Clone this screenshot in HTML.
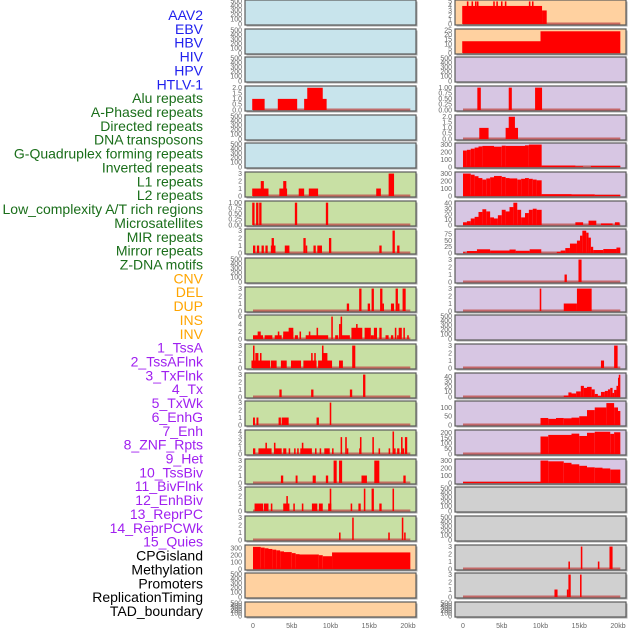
<!DOCTYPE html>
<html><head><meta charset="utf-8"><style>
html,body{margin:0;padding:0;background:#fff;width:630px;height:630px;overflow:hidden}
svg{display:block}
</style></head><body>
<svg id="chart" width="630" height="630" viewBox="0 0 630 630" xmlns="http://www.w3.org/2000/svg"></svg>
<script>
const labels = ["AAV2","EBV","HBV","HIV","HPV","HTLV-1","Alu repeats","A-Phased repeats","Directed repeats","DNA transposons","G-Quadruplex forming repeats","Inverted repeats","L1 repeats","L2 repeats","Low_complexity A/T rich regions","Microsatellites","MIR repeats","Mirror repeats","Z-DNA motifs","CNV","DEL","DUP","INS","INV","1_TssA","2_TssAFlnk","3_TxFlnk","4_Tx","5_TxWk","6_EnhG","7_Enh","8_ZNF_Rpts","9_Het","10_TssBiv","11_BivFlnk","12_EnhBiv","13_ReprPC","14_ReprPCWk","15_Quies","CPGisland","Methylation","Promoters","ReplicationTiming","TAD_boundary"];
const labelGroups = ["v","v","v","v","v","v","r","r","r","r","r","r","r","r","r","r","r","r","r","s","s","s","s","s","c","c","c","c","c","c","c","c","c","c","c","c","c","c","c","o","o","o","o","o"];
const xTickLabels = ["0","5kb","10kb","15kb","20kb"];
const xTickValues = [0,5,10,15,20];

// segment data: [startKb, endKb, value]
const segL4 = [[-0.1,1.5,1],[3.2,5.7,1],[6.6,9.5,1],[7,9,2]];
const segL7 = [[-0.1,2,1],[1,1.4,2],[3.4,4.4,1],[3.9,4.3,2],[5.9,6.6,1],[7.2,8.4,1],[15.9,16.5,1],[17.5,18.2,3]];
const segL8 = [[-0.1,0.2,1],[0.4,0.7,1],[0.8,1.1,1],[5.4,5.7,1],[9.4,9.7,1]];
const segL9 = [[0,0.3,1],[0.5,0.8,1],[1.1,1.4,1],[1.6,1.9,1],[2.3,2.9,1],[2.4,2.7,2],[4.1,4.7,1],[6.5,6.8,2],[6.8,7,1],[7.8,8.1,1],[8.3,8.9,1],[9.8,10.1,2],[16.3,16.6,1],[18,18.3,3],[18.6,18.9,1]];
const segL11 = [[12.1,12.4,1],[13.7,14,3],[14.8,15.1,1],[15.3,15.6,3],[16.4,16.7,3],[16.7,16.9,1],[17.8,18.2,1],[18.4,18.7,3],[18.7,18.9,1],[19.3,19.7,3]];
const segL12 = [[0,1.3,1],[0.6,1,2],[1.5,2.5,1],[2.8,3.7,1],[3.9,4.6,1],[3.2,3.4,2],[3.9,5.2,2],[4.6,5.2,3],[5.4,5.8,1],[6,6.2,2],[6.8,9.7,1],[7.2,7.4,2],[8.2,8.4,3],[10.1,10.3,6],[10.6,11,1],[11.1,11.3,4],[11.3,11.5,6],[11.4,12.5,1],[12.7,14.1,3],[13.3,13.5,4],[14.4,15.2,3],[15.2,15.6,1],[15.6,16,3],[16.3,16.6,3],[17.1,17.5,1],[17.8,18.1,1],[18.3,18.5,3],[18.6,18.8,1],[18.8,19.2,3],[19.4,19.6,3],[19.9,20.1,1]];
const segL13 = [[-0.2,2.2,1],[0,0.2,3],[0.3,0.7,2],[0.9,1.1,2],[2.3,3.05,1],[3.6,4.35,1],[4.9,6.2,1],[6.5,8.2,1],[7.5,7.7,2],[7.9,8.1,2],[8.4,10.2,1],[8.9,9.6,2],[8.9,9.1,3],[11.1,11.6,1],[12.8,13.2,3]];
const segL14 = [[3.4,3.7,1],[7.5,7.8,1],[12.5,12.8,1],[14.2,14.5,3]];
const segL15 = [[0,0.25,1],[0.45,0.7,1],[3.3,3.6,1],[3.7,4.6,1],[8.2,8.5,1],[9.9,10.1,3]];
const segL16 = [[0,0.3,1],[0.7,2.4,1],[1.6,1.8,2],[2.7,2.9,2],[2.8,3.7,1],[3.9,4.3,1],[4.6,4.8,1],[5.3,5.5,1],[5.7,5.9,1],[6.1,7.6,1],[6.3,6.5,2],[8.0,8.2,1],[8.6,8.8,1],[9.2,9.9,1],[10.2,10.4,1],[11.3,11.5,3],[11.9,12.1,3],[12.1,12.3,1],[13.7,13.9,1],[13.8,14,3],[15.4,15.6,3],[16.2,16.4,1],[17.5,17.7,1],[18,18.2,4],[18.2,18.4,1],[18.6,18.9,1],[19.1,19.3,3],[19.3,19.5,1],[19.6,19.9,3]];
const segL17 = [[3.6,3.9,1],[5.5,5.75,1],[7.7,8.1,1],[9.4,9.7,1],[10.4,10.8,3],[11.1,11.5,3],[14,14.7,1],[15.65,16.3,3],[19.4,19.7,1]];
const segL18 = [[0.2,1.3,1],[1.4,2,1],[2.3,2.5,1],[3.9,4.7,1],[4.3,4.5,2],[5.2,5.4,1],[6.3,6.5,1],[7.6,8.3,1],[8.5,9,1],[9.7,10.1,1],[9.9,10.1,3],[12.6,12.8,1],[13.6,13.9,1],[14.3,14.5,3],[15.3,15.6,3],[16.3,16.6,1],[18,18.2,3]];
const segL19 = [[11.1,11.3,1],[12.8,13,3],[17.45,17.65,1],[19.2,19.4,3],[19.5,19.7,1]];
const segL20 = [[0,1,320],[1,1.5,310],[1.5,2,300],[2,2.5,290],[2.5,3,280],[3,3.5,270],[3.5,4,255],[4,5,245],[5,5.5,230],[5.5,6,215],[6,8.5,210],[8.5,9,200],[9,10.2,185],[10.2,20.3,240]];
const segR1 = [[-0.1,10.2,4],[10.2,10.8,3],[0.5,0.7,5],[1.1,1.3,5],[1.55,1.75,5],[1.8,2.0,5],[3.9,4.1,5],[4.3,4.5,5],[4.9,5.1,5],[5.4,5.6,5],[8.5,8.7,5],[8.9,9.1,5]];
const segR2 = [[-0.1,10,13],[10,20.3,24]];
const segR4 = [[1.85,2.3,1],[5.9,6.3,1],[9.3,10.2,1]];
const segR5 = [[2.1,3.3,1],[5.5,7.1,1],[5.9,6.7,2]];
const segR6 = [[0,0.5,220],[0.5,1,230],[1,1.5,245],[1.5,2,260],[2,2.5,275],[2.5,4,282],[4,5,272],[5,5.5,285],[5.5,8,282],[8,8.5,290],[8.5,10.15,300],[10.15,14.5,20],[14.5,15.5,10],[16.5,20.3,15]];
const segR7 = [[0,1,300],[1,1.5,285],[1.5,2,265],[2,2.5,240],[2.5,3,220],[3,3.5,235],[3.5,4,250],[4,5,268],[5,5.5,255],[5.5,6,240],[6,7,235],[7,7.5,220],[7.5,8,230],[8,8.5,240],[8.5,9,230],[9,9.5,220],[9.5,10.15,210],[10.15,14,25],[14,17,22],[17,20.3,15]];
const segR8 = [[0,0.5,5],[0.5,1,7],[1,1.5,12],[1.5,2,15],[2,2.5,24],[2.5,3,29],[3,3.5,25],[3.5,4,14],[4,4.5,12],[4.5,5,18],[5,5.5,28],[5.5,6,25],[6,6.5,33],[6.5,7,41],[7,7.5,28],[7.5,8,14],[8,8.5,22],[8.5,9,28],[9,9.5,30],[9.5,10.15,28],[14.5,15.5,5],[16.2,17.2,8],[17.8,19.3,3],[19.6,20.2,5]];
const segR9 = [[0,0.3,3],[0.5,1.8,8],[1.8,3.5,15],[3.5,6,10],[6,6.8,14],[6.8,8.6,9],[8.6,10.1,15],[12.1,12.6,5],[12.6,13.2,10],[13.2,13.8,20],[13.8,14.7,38],[14.7,15.1,50],[15.1,15.4,70],[15.4,15.9,90],[15.9,16.2,82],[16.2,16.5,62],[16.5,16.8,25],[16.8,18.1,12],[18.1,19.8,16],[19.8,20.3,22]];
const segR10 = [[13.1,13.4,1],[14.9,15.3,3]];
const segR11 = [[9.9,10.1,3],[13,14.7,1],[14.7,16.6,3]];
const segR13 = [[17.8,18.2,1],[19.5,19.95,3]];
const segR14 = [[13,13.6,3],[13.6,14,9],[14,14.6,7],[14.6,15.2,11],[15.2,15.6,22],[15.6,16,18],[16,16.6,20],[16.6,17,15],[17,17.4,6],[17.4,17.8,2],[17.8,18.3,10],[18.3,18.7,12],[18.7,19,15],[19,19.3,18],[19.3,19.5,8],[19.5,19.8,14],[19.8,20,22],[20,20.1,38],[20.1,20.3,44]];
const segR15 = [[10,11,40],[11,12,35],[12,13,40],[13,14,38],[14,15,42],[15,16,50],[16,17,85],[17,18.5,100],[18.5,19.5,125],[19.5,20,100],[20,20.3,80]];
const segR16 = [[10,11,165],[11,14,180],[14,15,192],[15,16,170],[16,17,200],[17,19,210],[19,19.5,190],[19.5,20.3,205]];
const segR17 = [[0,10,15],[10,11,300],[11,13,290],[13,14,270],[14,15,250],[15,16,230],[16,17,210],[17,18,205],[18,19,195],[19,20.3,180]];
const segR20 = [[13.6,13.8,1],[15.2,15.4,3],[17.4,17.6,1],[18.9,19.3,3]];
const segR21 = [[11.8,12.2,1],[13.4,13.6,1],[13.6,13.9,3],[15.1,15.3,3]];

const ticks500 = [0,100,200,300,400,500];
const ticks3 = [0,1,2,3];
const ticks1 = [0,0.25,0.5,0.75,1];
const ticks2 = [0,0.5,1,1.5,2];

const BG = {blue:"#c8e4ec",green:"#c8e0a4",peach:"#ffd1a0",lav:"#d7c6e3",grey:"#d0d0d0"};
// [segments, domainMax, ticks, decimals, bg]
const leftCol = [
 [null,500,ticks500,0,"blue"],[null,500,ticks500,0,"blue"],[null,500,ticks500,0,"blue"],
 [segL4,2.05,ticks2,1,"blue"],[null,500,ticks500,0,"blue"],[null,500,ticks500,0,"blue"],
 [segL7,3.05,ticks3,0,"green"],[segL8,1.02,ticks1,2,"green"],[segL9,3.05,ticks3,0,"green"],
 [null,500,ticks500,0,"green"],[segL11,3.05,ticks3,0,"green"],[segL12,6.1,[0,2,4,6],0,"green"],
 [segL13,3.05,ticks3,0,"green"],[segL14,3.05,ticks3,0,"green"],[segL15,3.05,ticks3,0,"green"],
 [segL16,4.05,[0,1,2,3,4],0,"green"],[segL17,3.05,ticks3,0,"green"],[segL18,3.05,ticks3,0,"green"],
 [segL19,3.05,ticks3,0,"green"],[segL20,330,[0,100,200,300],0,"peach"],[null,500,ticks500,0,"peach"],[null,500,ticks500,0,"peach"]
];
const rightCol = [
 [segR1,5.05,[0,1,2,3,4,5],0,"peach"],[segR2,25.2,[0,5,10,15,20,25],0,"peach"],[null,500,ticks500,0,"lav"],
 [segR4,1.02,ticks1,2,"lav"],[segR5,2.05,ticks2,1,"lav"],[segR6,305,[0,100,200,300],0,"lav"],
 [segR7,305,[0,100,200,300],0,"lav"],[segR8,42,[0,10,20,30,40],0,"lav"],[segR9,92,[0,25,50,75],0,"lav"],
 [segR10,3.05,ticks3,0,"lav"],[segR11,3.05,ticks3,0,"lav"],[null,500,ticks500,0,"lav"],
 [segR13,3.05,ticks3,0,"lav"],[segR14,45,[0,10,20,30,40],0,"lav"],[segR15,130,[0,50,100],0,"lav"],
 [segR16,215,[0,50,100,150,200],0,"lav"],[segR17,305,[0,100,200,300],0,"lav"],[null,500,ticks500,0,"grey"],
 [null,500,ticks500,0,"grey"],[segR20,3.05,ticks3,0,"grey"],[segR21,3.05,ticks3,0,"grey"],[null,500,ticks500,0,"grey"]
];

const NS="http://www.w3.org/2000/svg";
const svg=document.getElementById('chart');
function mk(tag,attrs,parent){const e=document.createElementNS(NS,tag);for(const k in attrs)e.setAttribute(k,attrs[k]);(parent||svg).appendChild(e);return e;}
const COLORS={v:"#2020ee",r:"#1a6e1a",s:"#ffa500",c:"#a020f0",o:"#000"};

// labels
labels.forEach((t,i)=>{
  const e=mk('text',{x:203,y:20+i*13.86,'text-anchor':'end','font-family':'Liberation Sans, sans-serif','font-size':'14',fill:COLORS[labelGroups[i]]});
  
  
  e.textContent=t;
});

function drawCol(col,px0,zeroX,colName){
  const kbX=kb=>zeroX+kb*7.75;
  col.forEach((p,i)=>{
    const [segs,dmax,ticks,dec,bg]=p;
    const top=Math.round(i*28.66);
    const h=(i===21)?15:25;
    const g=mk('g',{});
    
    
    mk('rect',{x:px0+1.5,y:top+1.5,width:171,height:h,fill:'#a8a8a8'},g);
    mk('rect',{x:px0,y:top,width:171,height:h,fill:BG[bg],stroke:'#5a5a5a','stroke-width':1.2},g);
    const yb=top+h-1, yt=top+1.2;
    const yS=v=>yb-(v/dmax)*(yb-yt);
    ticks.forEach(tv=>{
      const tt=mk('text',{x:px0-3,y:yS(tv)+2.3,'text-anchor':'end','font-family':'Liberation Sans, sans-serif','font-size':'7',fill:'#666'},g);
      
      
      tt.textContent=tv.toFixed(dec);
    });
    if(segs){
      const bl=mk('line',{x1:kbX(0),x2:kbX(20.3),y1:yb-0.5,y2:yb-0.5,stroke:'#c0504d','stroke-width':2,opacity:0.8},g);
      
      
      segs.forEach(s=>{
        const x1=kbX(s[0]),x2=kbX(s[1]);
        const r=mk('rect',{x:x1,y:yS(s[2]),width:Math.max(1.2,x2-x1),height:yb-yS(s[2]),fill:'#ff0000'},g);
        
        
      });
    }
  });
  xTickValues.forEach((v,j)=>{
    const t=mk('text',{x:kbX(v),y:628,'text-anchor':'middle','font-family':'Liberation Sans, sans-serif','font-size':'7',fill:'#666'});
    
    
    t.textContent=xTickLabels[j];
  });
}
drawCol(leftCol,245,253,'left');
drawCol(rightCol,455,463,'right');
</script>
</body></html>
